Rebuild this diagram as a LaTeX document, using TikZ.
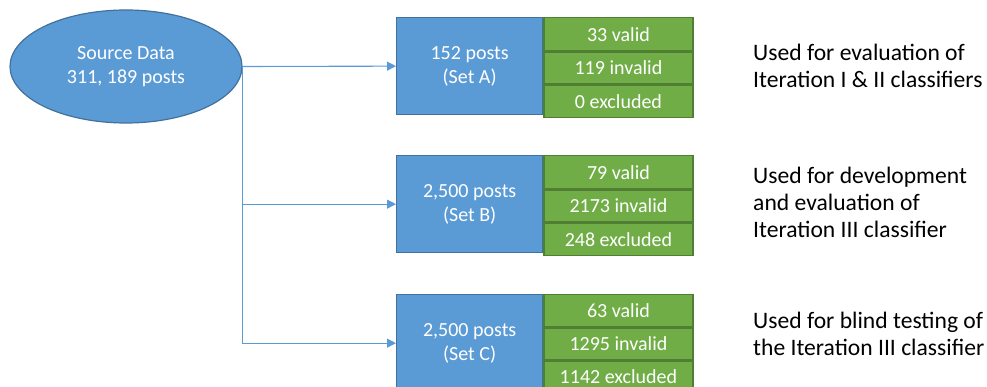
\documentclass[tikz,border=0pt]{standalone}
\usepackage{fontspec}
\setmainfont{Carlito}
\usetikzlibrary{shapes.geometric,arrows.meta}
\definecolor{obl}{HTML}{5B9BD5}
\definecolor{obld}{HTML}{41719C}
\definecolor{ogr}{HTML}{70AD47}
\definecolor{ogrd}{HTML}{507E32}
\tikzset{
  src/.style={ellipse, draw=obld, fill=obl, line width=1.2pt, minimum width=232pt, minimum height=113pt, inner sep=0pt, align=center, text=white, font=\fontsize{20}{24.4}\selectfont},
  bluebox/.style={rectangle, draw=obld, fill=obl, line width=1.3pt, minimum width=146pt, minimum height=97pt, inner sep=0pt, align=center, text=white, font=\fontsize{20}{24.4}\selectfont},
  greenbox/.style={rectangle, draw=ogrd, fill=ogr, line width=1.3pt, minimum width=149pt, minimum height=32pt, inner sep=0pt, align=center, text=white, font=\fontsize{20}{24.4}\selectfont},
  note/.style={anchor=west, align=left, inner sep=0pt, text=black, font=\fontsize{23.6}{27.2}\selectfont},
  conn/.style={draw=obl, line width=1.1pt},
  arr/.style={conn, -{Triangle[length=9pt,width=9pt]}}
}
\begin{document}
\begin{tikzpicture}[x=1pt,y=-1pt]
\useasboundingbox (0,0) rectangle (987,387);
\node[src] (src) at (126,66.5) {Source Data\\311, 189 posts};
% Set A
\node[bluebox, anchor=north west] (A) at (396,17) {152 posts\\(Set A)};
\node[greenbox, anchor=north west, minimum height=33pt] (A1) at (A.north east) {33 valid};
\node[greenbox, anchor=north west] (A2) at (A1.south west) {119 invalid};
\node[greenbox, anchor=north west] (A3) at (A2.south west) {0 excluded};
% Set B
\node[bluebox, anchor=north west] (B) at (396,155) {2,500 posts\\(Set B)};
\node[greenbox, anchor=north west, minimum height=33pt] (B1) at (B.north east) {79 valid};
\node[greenbox, anchor=north west] (B2) at (B1.south west) {2173 invalid};
\node[greenbox, anchor=north west] (B3) at (B2.south west) {248 excluded};
% Set C
\node[bluebox, anchor=north west] (C) at (396,294) {2,500 posts\\(Set C)};
\node[greenbox, anchor=north west] (C1) at (C.north east) {63 valid};
\node[greenbox, anchor=north west] (C2) at (C1.south west) {1295 invalid};
\node[greenbox, anchor=north west, minimum height=30pt] (C3) at (C2.south west) {1142 excluded};
% notes
\node[note] (nA) at (753,65.5) {Used for evaluation of\\Iteration I \& II classifiers};
\node[note] (nB) at (753,202.5) {Used for development\\and evaluation of\\Iteration III classifier};
\node[note] (nC) at (753,333.5) {Used for blind testing of\\the Iteration III classifier};
% connectors
\coordinate (bB) at (src.east |- B.west);
\draw[arr] (src.east) -- (A.west);
\draw[arr] (src.east) |- (C.west);
\draw[arr] (bB) -- (B.west);
\end{tikzpicture}
\end{document}
